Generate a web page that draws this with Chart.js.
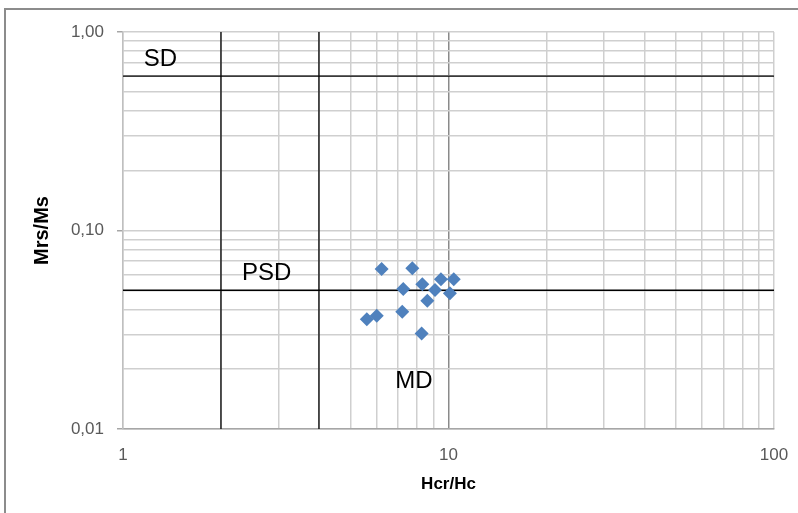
<!DOCTYPE html>
<html>
<head>
<meta charset="utf-8">
<script src="https://cdn.jsdelivr.net/npm/chart.js@4/dist/chart.umd.min.js"></script>
<style>
  html, body { margin: 0; padding: 0; background: #ffffff; }
  #wrap { width: 798px; height: 513px; }
</style>
</head>
<body>
<div id="wrap"><canvas id="dayPlot" width="798" height="513"></canvas></div>
<script>
// Day plot: Hcr/Hc against Mrs/Ms, both axes logarithmic
const hcrHc = [6.23, 7.74, 7.26, 8.31, 9.48, 10.38, 9.09, 10.10, 8.61, 5.61, 6.02, 7.21, 8.27];
const mrsMs = [0.0640, 0.0645, 0.0507, 0.0536, 0.0568, 0.0568, 0.0501, 0.0483, 0.0443, 0.0357, 0.0372, 0.0390, 0.0303];

// Domain boundaries (SD / PSD / MD)
const hcrBounds = [2, 4];
const mrsBounds = [0.6, 0.05];

// Axis ranges and labelled ticks
const xRange = [1, 100];
const yRange = [0.01, 1];
const xTickLabels = [1, 10, 100];
const yTickLabels = [0.01, 0.1, 1];

// Domain names and the values they sit at
const domainNames = ['SD', 'PSD', 'MD'];
const domainHcr = [1.304, 2.764, 7.83];
const domainMrs = [0.674, 0.0563, 0.01609];

function decadeTicks(lo, hi) {
  const out = [];
  for (let d = lo; d < hi * 0.999; d *= 10) {
    for (let m = 1; m <= 9; m++) out.push(+(d * m).toPrecision(6));
  }
  out.push(hi);
  return out;
}
const isLabelled = (list, v) => list.some(t => Math.abs(t - v) < t * 1e-6);

const points = hcrHc.map((x, i) => ({ x: x, y: mrsMs[i] }));
const boundaryLines = [
  ...hcrBounds.map(h => [{ x: h, y: yRange[0] }, { x: h, y: yRange[1] }]),
  ...mrsBounds.map(m => [{ x: xRange[0], y: m }, { x: xRange[1], y: m }])
];

const lineSets = boundaryLines.map(pts => ({
  type: 'line',
  data: pts,
  borderColor: '#000000',
  borderWidth: 1.3,
  pointRadius: 0,
  fill: false,
  order: 1
}));

const frame = {
  id: 'frame',
  beforeDraw(chart) {
    const c = chart.ctx;
    c.save();
    c.fillStyle = '#ffffff';
    c.fillRect(0, 0, chart.width, chart.height);
    c.strokeStyle = '#8c8c8c';
    c.lineWidth = 2;
    c.strokeRect(5, 9, chart.width + 10, chart.height + 10);
    c.restore();
  }
};

const domainText = {
  id: 'domainText',
  afterDatasetsDraw(chart) {
    const c = chart.ctx;
    const xs = chart.scales.x, ys = chart.scales.y;
    c.save();
    c.font = '24px "Liberation Sans", Arial, sans-serif';
    c.fillStyle = '#000000';
    c.textAlign = 'center';
    c.textBaseline = 'alphabetic';
    domainNames.forEach((name, i) => {
      c.fillText(name, xs.getPixelForValue(domainHcr[i]), ys.getPixelForValue(domainMrs[i]));
    });
    c.restore();
  }
};

new Chart(document.getElementById('dayPlot'), {
  type: 'scatter',
  data: {
    datasets: [
      {
        data: points,
        pointStyle: 'rectRot',
        pointRadius: 7,
        pointHoverRadius: 7,
        backgroundColor: '#4f81bd',
        borderColor: '#4f81bd',
        borderWidth: 0,
        order: 0
      },
      ...lineSets
    ]
  },
  options: {
    responsive: false,
    animation: false,
    layout: { padding: { top: 32, right: 24, left: 0, bottom: 0 } },
    plugins: { legend: { display: false }, tooltip: { enabled: false } },
    scales: {
      x: {
        type: 'logarithmic',
        position: 'bottom',
        min: xRange[0],
        max: xRange[1],
        afterBuildTicks(scale) {
          scale.ticks = decadeTicks(xRange[0], xRange[1]).map(v => ({ value: v }));
        },
        afterFit(scale) {
          scale.height = 84;
          scale.paddingLeft = 0;
          scale.paddingRight = 0;
        },
        ticks: {
          autoSkip: false,
          maxRotation: 0,
          padding: 16,
          color: '#595959',
          font: { family: '"Liberation Sans", Arial, sans-serif', size: 17 },
          callback(v) { return isLabelled(xTickLabels, v) ? String(v) : ''; }
        },
        grid: {
          drawTicks: false,
          lineWidth: 1.5,
          color(ctx) {
            const v = ctx.tick && ctx.tick.value;
            return Math.abs(v - 10) < 1e-6 ? '#8a8a8a' : '#cfcfcf';
          }
        },
        border: { color: '#a6a6a6', width: 1.5 },
        title: {
          display: true,
          text: 'Hcr/Hc',
          color: '#000000',
          font: { family: '"Liberation Sans", Arial, sans-serif', size: 17, weight: 'bold' },
          padding: { top: 0, bottom: 18 }
        }
      },
      y: {
        type: 'logarithmic',
        position: 'left',
        min: yRange[0],
        max: yRange[1],
        afterBuildTicks(scale) {
          scale.ticks = decadeTicks(yRange[0], yRange[1]).map(v => ({ value: v }));
        },
        afterFit(scale) {
          scale.width = 123;
          scale.paddingTop = 0;
          scale.paddingBottom = 0;
        },
        ticks: {
          autoSkip: false,
          padding: 13,
          color: '#595959',
          font: { family: '"Liberation Sans", Arial, sans-serif', size: 17 },
          callback(v) { return isLabelled(yTickLabels, v) ? v.toFixed(2).replace('.', ',') : ''; }
        },
        grid: {
          drawTicks: true,
          tickLength: 6,
          lineWidth: 1.5,
          color: '#cfcfcf',
          tickColor(ctx) {
            const v = ctx.tick && ctx.tick.value;
            return isLabelled(yTickLabels, v) ? '#a6a6a6' : 'rgba(0,0,0,0)';
          }
        },
        border: { color: '#bfbfbf', width: 1.5 },
        title: {
          display: true,
          text: 'Mrs/Ms',
          color: '#000000',
          font: { family: '"Liberation Sans", Arial, sans-serif', size: 20, weight: 'bold' },
          padding: { top: 30, bottom: 0 }
        }
      }
    }
  },
  plugins: [frame, domainText]
});
</script>
</body>
</html>
